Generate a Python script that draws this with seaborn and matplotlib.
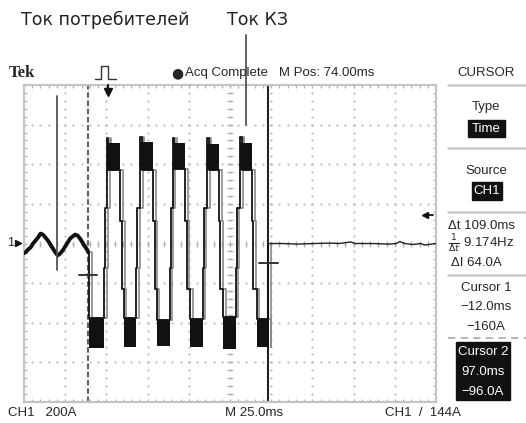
import numpy as np
import pandas as pd
import matplotlib
matplotlib.use("Agg")
import matplotlib.pyplot as plt
from matplotlib.lines import Line2D
from matplotlib.patches import Rectangle
import seaborn as sns

# ---------------- data ----------------
# time in ms, current in A  (screen: 25 ms/div, 200 A/div, centre 74 ms)
prefault_t = [-51.5, -50, -48.5, -47, -45.5, -44, -42.5, -41, -39.5, -38, -36.5, -35,
              -33.5, -32, -30.5, -29, -27.5, -26, -24.5, -23, -21.5, -20, -18.5, -17,
              -15.5, -14, -12.5, -12]
prefault_i = [-50, -45, -30, -20, 0, 15, 30, 50, 45, 30, 15, -5,
              -25, -45, -60, -50, -35, -15, 5, 25, 35, 45, 40, 25,
              5, -15, -35, -45]

low_t0 = [-11.5, 9.5, 29.5, 50.0, 70.0, 90.3]
low_t1 = [-2.3, 17.2, 37.3, 57.4, 77.5, 97.0]
low_top = [-375, -375, -385, -380, -370, -380]
low_bot = [-525, -520, -515, -520, -530, -520]

high_t0 = [-0.6, 19.5, 39.3, 60.3, 80.2]
high_t1 = [7.5, 27.5, 46.8, 67.3, 87.3]
high_top = [505, 510, 505, 500, 505]
high_bot = [370, 370, 375, 370, 370]
high_peak = [535, 540, 530, 535, 540]

rise_steps = [-125, 180]
fall_steps = [115, -230]

post_t = [97, 105, 115, 125, 135, 140, 145, 147, 150, 160, 170, 175, 177, 180, 185, 190, 192, 199]
post_i = [0, 0, -3, 0, 2, 0, 5, 8, 0, 0, -3, 0, 10, 0, -5, 0, -8, 0]

cursor1_t, cursor1_i = -12.0, -160.0
cursor2_t, cursor2_i = 97.0, -96.0
trigger_level = 144.0

# ---------------- build fault trace ----------------
ft, fi = [-12.0], [-45.0]
ft += [low_t0[0], low_t0[0]]; fi += [-45, low_top[0]]
for k in range(len(high_t0)):
    a = low_t1[k]
    h0 = high_t0[k]
    ft += [a, a, a + 0.6, a + 0.6, h0, h0, h0, h0 + 0.8, h0 + 0.8]
    fi += [low_top[k], rise_steps[0], rise_steps[0], rise_steps[1], rise_steps[1],
           high_bot[k], high_peak[k], high_peak[k], high_bot[k]]
    b = high_t1[k]
    ft += [b, b, b + 0.9, b + 0.9, low_t0[k + 1], low_t0[k + 1]]
    fi += [high_bot[k], fall_steps[0], fall_steps[0], fall_steps[1], fall_steps[1], low_top[k + 1]]
ft += [low_t1[-1], low_t1[-1], low_t1[-1]]; fi += [low_top[-1], low_bot[-1], 0]

# ---------------- figure ----------------
sns.set_theme(style="white")
W, H = 526, 423
fig = plt.figure(figsize=(W / 100, H / 100), dpi=100)
fig.patch.set_facecolor("white")
ax = fig.add_axes([24 / W, 1 - 402 / H, 412 / W, 317 / H])
x0, x1 = -51.0, 199.0
y0, y1 = -800.0, 800.0
ax.set_xlim(x0, x1)
ax.set_ylim(y0, y1)
ax.set_xticks([]); ax.set_yticks([])
for s in ax.spines.values():
    s.set_color("#c4c4c4"); s.set_linewidth(1.6)

gcol = "#b0b0b0"
divx = [x0 + 25 * k for k in range(11)]
divy = [y0 + 200 * k for k in range(9)]
minx = np.arange(x0, x1 + 0.1, 5.0)
miny = np.arange(y0, y1 + 0.1, 40.0)
# dotted graticule
for xv in divx[1:-1]:
    ax.plot([xv] * len(miny), miny, ls="none", marker="s", ms=1.3, color=gcol, mew=0, zorder=1)
for yv in divy[1:-1]:
    ax.plot(minx, [yv] * len(minx), ls="none", marker="s", ms=1.3, color=gcol, mew=0, zorder=1)
# edge and centre minor ticks
ax.plot(minx, [y1] * len(minx), ls="none", marker="|", ms=5, color=gcol, mew=0.9, zorder=1)
ax.plot(minx, [y0] * len(minx), ls="none", marker="|", ms=5, color=gcol, mew=0.9, zorder=1)
ax.plot([x0] * len(miny), miny, ls="none", marker="_", ms=5, color=gcol, mew=0.9, zorder=1)
ax.plot([x1] * len(miny), miny, ls="none", marker="_", ms=5, color=gcol, mew=0.9, zorder=1)
ax.plot(minx, [0] * len(minx), ls="none", marker="|", ms=4, color=gcol, mew=0.9, zorder=1)
ax.plot([74] * len(miny), miny, ls="none", marker="_", ms=4, color=gcol, mew=0.9, zorder=1)

# cursors
ax.plot([cursor1_t, cursor1_t], [y0, y1], color="#666666", lw=1.6, ls=(0, (2.5, 1.2)), zorder=1.5)
ax.plot([cursor2_t, cursor2_t], [y0, y1], color="#222222", lw=1.5, zorder=1.5)
ax.plot([cursor1_t - 5.5, cursor1_t + 5], [cursor1_i, cursor1_i], color="#333333", lw=1.4, zorder=4)
ax.plot([cursor2_t - 5.5, cursor2_t + 6], [cursor2_i, cursor2_i], color="#333333", lw=1.4, zorder=4)

# traces: gray shadow, saturated blobs, black trace
df_fault = pd.DataFrame({"t": ft, "i": fi})
df_shadow = pd.DataFrame({"t": [v + 1.6 for v in ft], "i": fi})
sns.lineplot(data=df_shadow, x="t", y="i", sort=False, estimator=None, color="#8a8a8a", lw=1.2, ax=ax, zorder=2)
for a, b, t, bt in zip(low_t0, low_t1, low_top, low_bot):
    ax.fill_between([a, b], [t, t], [bt, bt], color="#111111", lw=0, zorder=2.5)
for a, b, t, bt in zip(high_t0, high_t1, high_top, high_bot):
    ax.fill_between([a, b], [t, t], [bt, bt], color="#111111", lw=0, zorder=2.5)
sns.lineplot(data=df_fault, x="t", y="i", sort=False, estimator=None, color="#111111", lw=1.3, ax=ax, zorder=3)
sns.lineplot(x=prefault_t, y=prefault_i, sort=False, estimator=None, color="#111111", lw=2.8, ax=ax, zorder=3)
sns.lineplot(x=post_t, y=post_i, sort=False, estimator=None, color="#222222", lw=1.0, ax=ax, zorder=3)
ax.set_xlabel(""); ax.set_ylabel("")

# trigger markers
ax.plot([0], [765], marker="v", color="#111111", ms=6, clip_on=False, zorder=5)
ax.plot([0, 0], [765, 800], color="#111111", lw=1.5, clip_on=False, zorder=5)
ax.plot([192.5], [trigger_level], marker="<", color="#111111", ms=5, clip_on=False, zorder=5)
ax.plot([192.5, 197], [trigger_level, trigger_level], color="#111111", lw=1.3, clip_on=False, zorder=5)

# annotation leader lines
ax.plot([-31, -31], [745, -136], color="#555555", lw=1.3, clip_on=False, zorder=5)
ax.plot([83.6, 83.6], [1050, 596], color="#555555", lw=1.3, clip_on=False, zorder=5)


def fx(px):
    return px / W


def fy(py):
    return 1 - py / H


narrow = ["Liberation Sans", "DejaVu Sans"]
fs = 9.5
fig.text(fx(21), fy(20), "Ток потребителей", fontsize=12.5, family=["DejaVu Sans"], va="center", color="#222222")
fig.text(fx(227), fy(20), "Ток КЗ", fontsize=12.5, family=["DejaVu Sans"], va="center", color="#222222")
fig.text(fx(9), fy(73), "Tek", fontsize=12, family=["Liberation Serif", "DejaVu Serif"], weight="bold", va="center")
fig.text(fx(171), fy(73), "●", fontsize=10, va="center", family=["DejaVu Sans"])
fig.text(fx(185), fy(73), "Acq Complete   M Pos: 74.00ms", fontsize=fs, va="center", family=narrow)
fig.text(fx(486), fy(73), "CURSOR", fontsize=fs, va="center", ha="center", family=narrow)

# trigger icon
fig.add_artist(Line2D([fx(95), fx(101), fx(101), fx(108), fx(108), fx(116)],
                      [fy(79), fy(79), fy(66), fy(66), fy(79), fy(79)], color="#333333", lw=1.0))

# ground marker
fig.text(fx(11), fy(243), "1", fontsize=9, va="center", ha="center", family=narrow)
fig.add_artist(Line2D([fx(18)], [fy(243)], marker=">", ms=4, color="#111111", ls="none"))

# right panel
for yy in [85, 148, 212, 275]:
    fig.add_artist(Line2D([fx(448), fx(526)], [fy(yy), fy(yy)], color="#c8c8c8", lw=1.8))
fig.add_artist(Line2D([fx(448), fx(526)], [fy(338), fy(338)], color="#b0b0b0", lw=1.3, ls=(0, (4, 3))))

fig.text(fx(486), fy(107), "Type", fontsize=fs, va="center", ha="center", family=narrow)
fig.add_artist(Rectangle((fx(468), fy(137)), fx(37), 17 / H, color="#111111", transform=fig.transFigure))
fig.text(fx(486.5), fy(128.5), "Time", fontsize=fs, va="center", ha="center", family=narrow, color="white")
fig.text(fx(486), fy(171), "Source", fontsize=fs, va="center", ha="center", family=narrow)
fig.add_artist(Rectangle((fx(472), fy(200)), fx(30), 18 / H, color="#111111", transform=fig.transFigure))
fig.text(fx(487), fy(191), "CH1", fontsize=fs, va="center", ha="center", family=narrow, color="white")

fig.text(fx(448), fy(226), "Δt 109.0ms", fontsize=fs, va="center", family=narrow)
fig.text(fx(448), fy(244), r"$\frac{1}{\Delta t}$ 9.174Hz", fontsize=fs, va="center", family=narrow)
fig.text(fx(451), fy(263), "ΔI 64.0A", fontsize=fs, va="center", family=narrow)

fig.text(fx(486), fy(288), "Cursor 1", fontsize=fs, va="center", ha="center", family=narrow)
fig.text(fx(486), fy(307), "−12.0ms", fontsize=fs, va="center", ha="center", family=narrow)
fig.text(fx(486), fy(327), "−160A", fontsize=fs, va="center", ha="center", family=narrow)

fig.add_artist(Rectangle((fx(456), fy(400)), fx(54), 58 / H, color="#111111", transform=fig.transFigure))
fig.text(fx(483), fy(352), "Cursor 2", fontsize=fs, va="center", ha="center", family=narrow, color="white")
fig.text(fx(483), fy(372), "97.0ms", fontsize=fs, va="center", ha="center", family=narrow, color="white")
fig.text(fx(483), fy(392), "−96.0A", fontsize=fs, va="center", ha="center", family=narrow, color="white")

# bottom status line
fig.text(fx(8), fy(413), "CH1   200A", fontsize=fs, va="center", family=narrow)
fig.text(fx(225), fy(413), "M 25.0ms", fontsize=fs, va="center", family=narrow)
fig.text(fx(385), fy(413), "CH1  /  144A", fontsize=fs, va="center", family=narrow)

fig.savefig("out.png", dpi=100, facecolor="white")
